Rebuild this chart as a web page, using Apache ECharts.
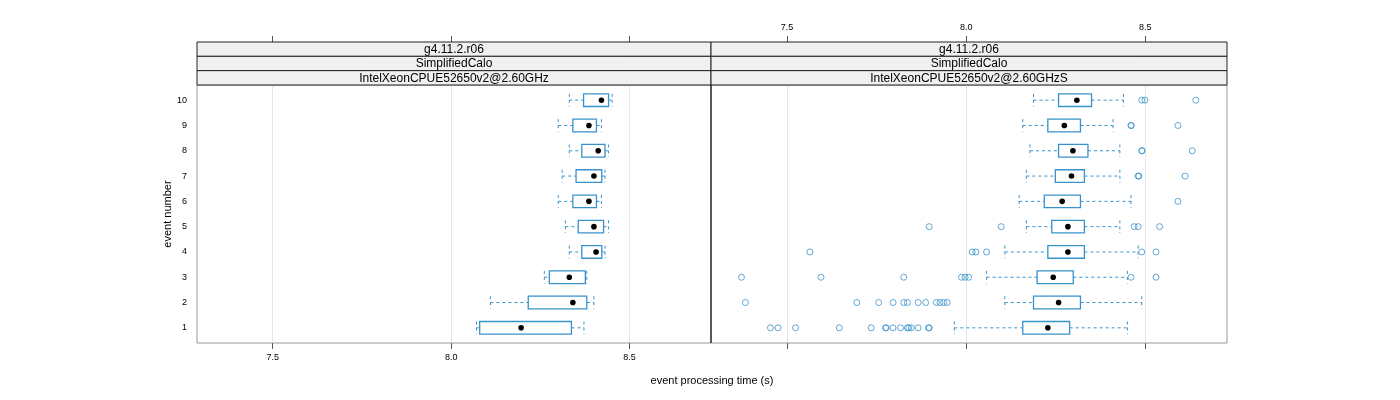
<!DOCTYPE html>
<html>
<head>
<meta charset="utf-8">
<script src="https://cdn.jsdelivr.net/npm/echarts@6/dist/echarts.min.js"></script>
<style>html,body{margin:0;padding:0;background:#fff}#c{width:1400px;height:400px}</style>
</head>
<body>
<div id="c"></div>
<script>
// ---------- data ----------
const events = [1, 2, 3, 4, 5, 6, 7, 8, 9, 10];
const xTicks = [7.5, 8.0, 8.5];
const stripLevel1 = ["g4.11.2.r06", "g4.11.2.r06"];
const stripLevel2 = ["SimplifiedCalo", "SimplifiedCalo"];
const stripLevel3 = ["IntelXeonCPUE52650v2@2.60GHz", "IntelXeonCPUE52650v2@2.60GHzS"];
const xTitle = "event processing time (s)";
const yTitle = "event number";

// left panel (IntelXeonCPUE52650v2@2.60GHz), per event 1..10
const leftLow    = [8.071, 8.110, 8.261, 8.331, 8.320, 8.300, 8.311, 8.331, 8.300, 8.331];
const leftQ1     = [8.080, 8.216, 8.275, 8.366, 8.356, 8.341, 8.350, 8.366, 8.341, 8.371];
const leftMedian = [8.196, 8.341, 8.331, 8.406, 8.400, 8.386, 8.400, 8.412, 8.386, 8.421];
const leftQ3     = [8.337, 8.380, 8.376, 8.422, 8.427, 8.407, 8.422, 8.431, 8.407, 8.441];
const leftHigh   = [8.372, 8.400, 8.380, 8.431, 8.441, 8.421, 8.431, 8.441, 8.421, 8.451];
const leftOutliers = [[], [], [], [], [], [], [], [], [], []];

// right panel (IntelXeonCPUE52650v2@2.60GHzS), per event 1..10
const rightLow    = [7.967, 8.108, 8.057, 8.108, 8.168, 8.148, 8.168, 8.178, 8.158, 8.188];
const rightQ1     = [8.158, 8.188, 8.198, 8.228, 8.239, 8.218, 8.249, 8.258, 8.228, 8.258];
const rightMedian = [8.228, 8.258, 8.243, 8.284, 8.284, 8.268, 8.294, 8.298, 8.274, 8.309];
const rightQ3     = [8.289, 8.319, 8.299, 8.330, 8.330, 8.319, 8.330, 8.340, 8.319, 8.350];
const rightHigh   = [8.450, 8.490, 8.450, 8.480, 8.429, 8.460, 8.429, 8.429, 8.410, 8.439];
const rightOutliers = [
  [7.454, 7.475, 7.524, 7.646, 7.735, 7.775, 7.777, 7.796, 7.817, 7.836, 7.840, 7.847, 7.866, 7.895, 7.897],
  [7.384, 7.695, 7.756, 7.796, 7.826, 7.836, 7.866, 7.887, 7.917, 7.927, 7.937, 7.947],
  [7.373, 7.595, 7.826, 7.987, 7.997, 8.007, 8.460, 8.530],
  [7.564, 8.017, 8.027, 8.057, 8.490, 8.530],
  [7.897, 8.098, 8.469, 8.480, 8.540],
  [8.591],
  [8.480, 8.482, 8.611],
  [8.490, 8.491, 8.631],
  [8.460, 8.461, 8.591],
  [8.490, 8.499, 8.641]
];

// ---------- styling ----------
const BLUE = "#3a92cc";
const FONT = "Liberation Sans";
const XMIN = 7.288, XMAX = 8.728, YMIN = 0.4, YMAX = 10.6;
const PANELS = [
  { left: 197, width: 514 },
  { left: 711, width: 516 }
];
const TOP = 85, HEIGHT = 258, STRIP_TOP = 42, STRIP_H = 43 / 3;

function boxData(low, q1, med, q3, high) {
  return events.map((e, i) => [e, low[i], q1[i], med[i], q3[i], high[i]]);
}
function outlierData(outs) {
  const d = [];
  outs.forEach((arr, i) => arr.forEach(v => d.push([v, events[i]])));
  return d;
}

function renderBox(params, api) {
  const y = api.value(0);
  const lo = api.coord([api.value(1), y]);
  const q1 = api.coord([api.value(2), y]);
  const md = api.coord([api.value(3), y]);
  const q3 = api.coord([api.value(4), y]);
  const hi = api.coord([api.value(5), y]);
  const h = api.size([0, 0.5])[1];
  const cy = lo[1];
  const dash = { stroke: BLUE, lineWidth: 1, lineDash: [3, 3] };
  return {
    type: 'group',
    children: [
      { type: 'line', shape: { x1: lo[0], y1: cy, x2: q1[0], y2: cy }, style: dash },
      { type: 'line', shape: { x1: q3[0], y1: cy, x2: hi[0], y2: cy }, style: dash },
      { type: 'line', shape: { x1: lo[0], y1: cy - h / 2, x2: lo[0], y2: cy + h / 2 }, style: dash },
      { type: 'line', shape: { x1: hi[0], y1: cy - h / 2, x2: hi[0], y2: cy + h / 2 }, style: dash },
      { type: 'rect', shape: { x: q1[0], y: cy - h / 2, width: q3[0] - q1[0], height: h },
        style: { fill: '#ffffff', stroke: BLUE, lineWidth: 1.3 } },
      { type: 'circle', shape: { cx: md[0], cy: cy, r: 2.8 }, style: { fill: '#000000' } }
    ]
  };
}

const grids = PANELS.map(p => ({ left: p.left, width: p.width, top: TOP, height: HEIGHT,
  show: true, borderColor: '#999999', borderWidth: 1, containLabel: false }));

function xAxisDef(gi, pos, showLabel) {
  return {
    type: 'value', gridIndex: gi, position: pos, min: XMIN, max: XMAX,
    offset: pos === 'top' ? (TOP - STRIP_TOP) : 0,
    axisLine: { show: false },
    axisTick: { show: true, inside: false, length: 6, customValues: xTicks, lineStyle: { color: '#555' } },
    axisLabel: { show: showLabel, customValues: xTicks, fontFamily: FONT, fontSize: 9, color: '#000',
      margin: 10, formatter: v => v.toFixed(1) },
    splitLine: { show: pos === 'bottom', lineStyle: { color: '#e6e6e6', width: 1 } }
  };
}

const xAxes = [
  xAxisDef(0, 'bottom', true),
  xAxisDef(0, 'top', false),
  xAxisDef(1, 'bottom', false),
  xAxisDef(1, 'top', true)
];
const yAxes = [
  { type: 'value', gridIndex: 0, min: YMIN, max: YMAX,
    axisLine: { show: false },
    axisTick: { show: false, customValues: events },
    axisLabel: { show: true, customValues: events, fontFamily: FONT, fontSize: 9, color: '#000', margin: 10 },
    splitLine: { show: false },
    name: yTitle, nameLocation: 'middle', nameGap: 24,
    nameTextStyle: { fontFamily: FONT, fontSize: 11, color: '#000' } },
  { type: 'value', gridIndex: 1, min: YMIN, max: YMAX,
    axisLine: { show: false }, axisTick: { show: false }, axisLabel: { show: false }, splitLine: { show: false } }
];

const graphics = [];
const levels = [stripLevel1, stripLevel2, stripLevel3];
PANELS.forEach((p, pi) => {
  levels.forEach((lv, li) => {
    graphics.push({
      type: 'rect', z: 10,
      shape: { x: p.left, y: STRIP_TOP + li * STRIP_H, width: p.width, height: STRIP_H },
      style: { fill: '#f0f0f0', stroke: '#222', lineWidth: 1 }
    });
    graphics.push({
      type: 'text', z: 11,
      x: p.left + p.width / 2, y: STRIP_TOP + li * STRIP_H + STRIP_H / 2 + 0.5,
      style: { text: lv[pi], fontFamily: FONT, fontSize: 12, fill: '#000', align: 'center', verticalAlign: 'middle' }
    });
  });
});
graphics.push({ type: 'line', z: 10, shape: { x1: 711, y1: TOP, x2: 711, y2: TOP + HEIGHT },
  style: { stroke: '#000', lineWidth: 1 } });
graphics.push({ type: 'text', z: 11, x: 712, y: 381,
  style: { text: xTitle, fontFamily: FONT, fontSize: 11, fill: '#000', align: 'center', verticalAlign: 'middle' } });

const option = {
  animation: false,
  backgroundColor: '#ffffff',
  grid: grids,
  xAxis: xAxes,
  yAxis: yAxes,
  graphic: graphics,
  series: [
    { type: 'custom', xAxisIndex: 0, yAxisIndex: 0, renderItem: renderBox,
      encode: { x: [1, 2, 3, 4, 5], y: 0 }, data: boxData(leftLow, leftQ1, leftMedian, leftQ3, leftHigh) },
    { type: 'scatter', xAxisIndex: 0, yAxisIndex: 0, symbol: 'circle', symbolSize: 6,
      itemStyle: { color: 'rgba(0,0,0,0)', borderColor: BLUE, borderWidth: 1 }, data: outlierData(leftOutliers) },
    { type: 'custom', xAxisIndex: 2, yAxisIndex: 1, renderItem: renderBox,
      encode: { x: [1, 2, 3, 4, 5], y: 0 }, data: boxData(rightLow, rightQ1, rightMedian, rightQ3, rightHigh) },
    { type: 'scatter', xAxisIndex: 2, yAxisIndex: 1, symbol: 'circle', symbolSize: 6,
      itemStyle: { color: 'rgba(0,0,0,0)', borderColor: BLUE, borderWidth: 1 }, data: outlierData(rightOutliers) }
  ]
};
const chart = echarts.init(document.getElementById('c'), null, { renderer: 'canvas' });
chart.setOption(option);
</script>
</body>
</html>
